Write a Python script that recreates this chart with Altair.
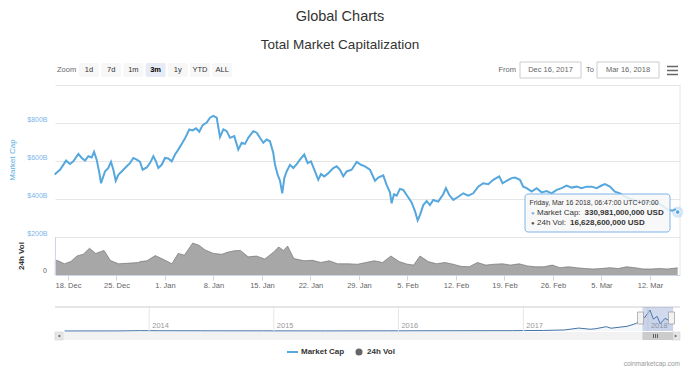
import altair as alt
import pandas as pd

FONT = "Liberation Sans"
BLUE = "#55a7dd"
PX0, PY0 = 55, 85          # page position of the plot origin
W, H = 625, 190

# ---------------- data ----------------
BASE = pd.Timestamp("2017-12-16")
# market cap (billions USD) at day offsets from 16 Dec 2017
mc_day = [0.1, 0.27, 0.85, 1.72, 2.29, 2.77, 3.50, 3.98, 4.46, 4.94, 5.42, 5.76, 6.14, 6.53, 6.77,
          7.01, 7.34, 7.82, 8.21, 8.55, 8.89, 9.27, 9.75, 10.48, 10.95, 11.43, 11.92, 12.40,
          12.78, 13.36, 13.84, 14.32, 14.70, 15.04, 15.52, 16.00, 16.48, 16.97, 17.45, 17.92,
          18.41, 18.89, 19.51, 20.00, 20.48, 20.95, 21.44, 22.02, 22.50, 22.97, 23.46, 23.94,
          24.42, 24.91, 25.38, 26.00, 26.58, 27.07, 27.55, 28.02, 28.74, 29.24, 29.71, 30.19,
          30.68, 31.15, 31.63, 31.88, 32.27, 32.60, 32.93, 33.22, 33.56, 34.04, 34.52, 35.01,
          35.48, 36.10, 36.59, 37.07, 37.55, 38.12, 38.51, 38.99, 39.57, 40.29, 40.78, 41.26,
          41.73, 42.22, 42.94, 43.67, 44.29, 44.86, 45.59, 46.31, 46.78, 47.50, 47.99, 48.47,
          48.71, 49.05, 49.44, 49.91, 50.39, 50.88, 51.60, 52.08, 52.47, 52.80, 53.28, 53.77,
          54.24, 54.72, 55.44, 56.16, 56.55, 57.03, 57.61, 58.33, 59.05, 59.77, 60.49, 61.21,
          61.93, 62.66, 63.38, 64.24, 64.73, 65.31, 66.03, 66.51, 67.23, 67.71, 68.20, 68.92,
          69.64, 70.36, 71.08, 71.80, 72.53, 73.25, 73.97, 74.69, 75.41, 76.13, 76.85, 77.57,
          78.30, 79.02, 79.49, 80.22, 80.94, 81.66, 82.38, 83.2, 84.0, 85.0, 86.0, 87.0, 87.8,
          88.5, 89.2, 89.6, 90.0]
mc_val = [528, 536, 554, 602, 584, 598, 637, 616, 602, 625, 619, 648, 607, 536, 483,
          510, 545, 563, 595, 554, 496, 527, 545, 572, 589, 616, 607, 595,
          554, 566, 589, 625, 598, 563, 580, 616, 613, 598, 634, 660,
          690, 719, 766, 761, 772, 754, 789, 802, 828, 837, 828, 726,
          766, 757, 722, 731, 660, 696, 690, 722, 757, 749, 722, 696,
          713, 704, 642, 580, 527, 496, 430, 510, 545, 580, 563, 584,
          607, 634, 589, 598, 554, 501, 531, 519, 536, 563, 572, 554,
          519, 545, 554, 595, 580, 572, 554, 496, 513, 524, 474, 435,
          377, 425, 418, 453, 448, 421, 382, 336, 288, 315, 368, 389,
          368, 395, 386, 425, 457, 421, 395, 412, 430, 418, 430, 465,
          483, 478, 501, 519, 483, 496, 510, 513, 501, 465, 457, 439,
          457, 435, 442, 430, 448, 457, 471, 460, 465, 457, 465, 465,
          457, 471, 478, 465, 439, 430, 412, 400, 390, 385, 380, 378, 365,
          345, 338, 345, 330.981]

# 24h volume (billions USD)
vol_day = [0.1, 0.4, 1.5, 1.8, 2.4, 3.3, 3.7, 4.2, 5.1, 6.0, 7.2, 8.1, 8.5, 9.3, 10.5, 12.2, 12.4,
           13.4, 14.6, 15.8, 17.0, 17.9, 18.8, 20.0, 20.9, 21.8, 23.0, 24.2, 25.1, 26.0,
           26.9, 28.0, 29.2, 30.4, 31.6, 32.4, 33.1, 33.7, 34.6, 36.1, 37.3, 38.5, 39.7,
           40.9, 42.4, 43.8, 45.0, 46.2, 47.4, 48.6, 49.8, 51.0, 51.9, 52.8, 54.0, 55.2,
           56.4, 57.6, 58.7, 59.9, 61.1, 62.3, 63.5, 64.7, 65.9, 67.1, 68.3, 69.5, 70.7,
           71.9, 73.0, 74.2, 75.4, 76.6, 77.8, 79.0, 80.2, 81.4, 82.6, 83.8, 85.0, 86.2,
           87.4, 88.5, 89.7, 90.0]
vol_val = [32, 34, 26, 28, 31, 44, 46, 48, 62, 50, 57, 34, 31, 26, 27, 29, 31,
           33, 45, 36, 26, 50, 46, 74, 69, 58, 50, 48, 53, 56,
           57, 42, 44, 37, 52, 65, 57, 67, 38, 33, 34, 29, 33,
           26, 26, 25, 29, 33, 29, 44, 31, 25, 23, 44, 31, 26,
           29, 25, 20, 19, 29, 23, 25, 26, 23, 26, 21, 19, 19,
           23, 17, 19, 17, 15, 14, 15, 17, 15, 19, 17, 14, 14,
           15, 14, 16, 16.6286]

# navigator: whole history of market cap (billions USD)
nav_date = ["2013-04-28", "2013-10-01", "2013-12-04", "2014-02-01", "2014-06-01", "2014-12-01",
            "2015-06-01", "2015-12-01", "2016-06-15", "2016-12-01", "2017-01-05", "2017-03-01",
            "2017-05-01", "2017-06-12", "2017-07-16", "2017-08-01", "2017-09-01", "2017-09-15",
            "2017-11-01", "2017-11-28", "2017-12-17", "2017-12-22", "2018-01-07", "2018-01-17",
            "2018-01-28", "2018-02-06", "2018-02-20", "2018-03-16"]
nav_val = [1.5, 2, 13, 10, 8, 5, 3.5, 6, 10, 12, 18, 22, 40, 115, 70, 90, 170, 110, 185, 300,
           600, 520, 830, 470, 580, 290, 500, 331]

x_tick_dates = ["2017-12-18", "2017-12-25", "2018-01-01", "2018-01-08", "2018-01-15",
                "2018-01-22", "2018-01-29", "2018-02-05", "2018-02-12", "2018-02-19",
                "2018-02-26", "2018-03-05", "2018-03-12"]
y_ticks = [200, 400, 600, 800, 1000]
year_starts = ["2014-01-01", "2015-01-01", "2016-01-01", "2017-01-01", "2018-01-01"]
year_labels = ["2014", "2015", "2016", "2017", "2018"]
selection = ["2017-12-16", "2018-03-16"]
zoom_buttons = ["1d", "7d", "1m", "3m", "1y", "YTD", "ALL"]
selected_button = "3m"
from_date, to_date = "Dec 16, 2017", "Mar 16, 2018"
tooltip_header = "Friday, Mar 16 2018, 06:47:00 UTC+07:00"
tooltip_mc = "330,981,000,000 USD"
tooltip_vol = "16,628,600,000 USD"

# ---------------- tables ----------------
mc = pd.DataFrame({"t": [BASE + pd.Timedelta(days=d) for d in mc_day], "v": mc_val})
vol = pd.DataFrame({"t": [BASE + pd.Timedelta(days=d) for d in vol_day], "v": vol_val})
nav = pd.DataFrame({"t": pd.to_datetime(nav_date), "v": nav_val})
years = pd.DataFrame({"t": pd.to_datetime(year_starts), "label": year_labels})
sel = pd.DataFrame({"t": [pd.Timestamp(selection[0])], "t2": [pd.Timestamp(selection[1])]})
last = mc.tail(1)
ONE = pd.DataFrame({"k": [0]})


def dt(s):
    ts = pd.Timestamp(s)
    return alt.DateTime(year=ts.year, month=ts.month, date=ts.day, hours=ts.hour, minutes=ts.minute)


xs_main = alt.Scale(domain=[dt("2017-12-16 03:00"), dt("2018-03-16 08:00")])
ys_main = alt.Scale(domain=[0, 1000])
xs_nav = alt.Scale(domain=[dt("2013-03-31"), dt("2018-04-05")])
ys_nav = alt.Scale(domain=[0, 870], range=[246, 224])
ys_vol = alt.Scale(domain=[0, 88], range=[190, 152])


# ---------------- helpers for the page chrome ----------------
def text(s, x, y, size=8, color="#333333", weight="normal", align="left", angle=0, font=FONT):
    return alt.Chart(ONE).mark_text(text=s, fontSize=size, color=color, fontWeight=weight,
                                    align=align, baseline="middle", angle=angle, font=font
                                    ).encode(x=alt.value(x - PX0), y=alt.value(y - PY0))


def box(x1, y1, x2, y2, fill, stroke=None, sw=1, radius=0, opacity=1.0):
    kw = dict(fill=fill, fillOpacity=opacity, cornerRadius=radius)
    if stroke:
        kw.update(stroke=stroke, strokeWidth=sw)
    else:
        kw.update(strokeWidth=0)
    return alt.Chart(ONE).mark_rect(**kw).encode(
        x=alt.value(x1 - PX0), x2=alt.value(x2 - PX0),
        y=alt.value(y1 - PY0), y2=alt.value(y2 - PY0))


def hline(x1, x2, y, color, sw=1):
    return alt.Chart(ONE).mark_rule(color=color, strokeWidth=sw).encode(
        x=alt.value(x1 - PX0), x2=alt.value(x2 - PX0), y=alt.value(y - PY0))


def vline(x, y1, y2, color, sw=1):
    return alt.Chart(ONE).mark_rule(color=color, strokeWidth=sw).encode(
        x=alt.value(x - PX0), y=alt.value(y1 - PY0), y2=alt.value(y2 - PY0))


# ---------------- data layers ----------------
line = alt.Chart(mc).mark_line(color=BLUE, strokeWidth=2).encode(
    x=alt.X("t:T", scale=xs_main, title=None,
            axis=alt.Axis(values=[dt(s) for s in x_tick_dates], format="%-d. %b", grid=False,
                          domainColor="#ccd6eb", tickColor="#ccd6eb", tickSize=5, labelPadding=1,
                          labelFontSize=7.5, labelColor="#666666", labelFont=FONT,
                          labelFlush=False, labelOverlap=False)),
    y=alt.Y("v:Q", scale=ys_main, title=None,
            axis=alt.Axis(values=y_ticks, grid=True, gridColor="#e6e6e6", domain=False, ticks=False,
                          labelExpr="datum.value >= 1000 ? '' : '$' + datum.value + 'B'",
                          labelPadding=8, labelFontSize=7, labelColor="#7cb5ec", labelFont=FONT,
                          labelBaseline="middle", labelOffset=-4)),
)

volume = alt.Chart(vol).mark_area(color="#828282", line={"color": "#666666", "strokeWidth": 0.6}).encode(
    x=alt.X("t:T", scale=xs_main, axis=None),
    y=alt.Y("v:Q", scale=ys_vol, axis=None),
)

nav_area = alt.Chart(nav).mark_area(color="#4572a7", opacity=0.06).encode(
    x=alt.X("t:T", scale=xs_nav, axis=None), y=alt.Y("v:Q", scale=ys_nav, axis=None))
nav_line = alt.Chart(nav).mark_line(color="#4572a7", strokeWidth=1).encode(
    x=alt.X("t:T", scale=xs_nav, axis=None), y=alt.Y("v:Q", scale=ys_nav, axis=None))
year_rules = alt.Chart(years).mark_rule(color="#e6e6e6").encode(
    x=alt.X("t:T", scale=xs_nav, axis=None), y=alt.value(307 - PY0), y2=alt.value(331 - PY0))
year_text = alt.Chart(years).mark_text(align="left", baseline="middle", dx=3, fontSize=7.5,
                                       color="#999999", font=FONT).encode(
    x=alt.X("t:T", scale=xs_nav, axis=None), y=alt.value(326 - PY0), text="label:N")
nav_mask = alt.Chart(sel).mark_rect(color="#6685c2", opacity=0.3).encode(
    x=alt.X("t:T", scale=xs_nav, axis=None), x2="t2:T",
    y=alt.value(307 - PY0), y2=alt.value(331 - PY0))
thumb = alt.Chart(sel).mark_rect(color="#cccccc").encode(
    x=alt.X("t:T", scale=xs_nav, axis=None), x2="t2:T",
    y=alt.value(332 - PY0), y2=alt.value(340 - PY0))

halo = alt.Chart(last).mark_circle(color="#7cb5ec", opacity=0.3, size=130).encode(
    x=alt.X("t:T", scale=xs_main, axis=None), y=alt.Y("v:Q", scale=ys_main, axis=None))
dot = alt.Chart(last).mark_circle(color=BLUE, opacity=1, size=22, stroke="white", strokeWidth=1).encode(
    x=alt.X("t:T", scale=xs_main, axis=None), y=alt.Y("v:Q", scale=ys_main, axis=None))

# ---------------- chrome ----------------
chrome = [
    text("Global Charts", 340, 16.5, size=14.5, align="center"),
    text("Total Market Capitalization", 340, 45, size=13.5, align="center"),
    text("Zoom", 57, 70, size=7.5, color="#666666"),
]
for i, b in enumerate(zoom_buttons):
    cx = 89 + 22.2 * i
    on = b == selected_button
    chrome.append(box(cx - 10, 63, cx + 10, 77, "#e6ebf5" if on else "#f7f7f7", radius=2))
    chrome.append(text(b, cx, 70, size=7.5, color="#000000" if on else "#333333",
                       weight="bold" if on else "normal", align="center"))
chrome += [
    text("From", 516, 70, size=7.5, color="#666666", align="right"),
    box(520, 62, 581, 78, "#ffffff", stroke="#cccccc"),
    text(from_date, 550.5, 70, size=7.5, color="#666666", align="center"),
    text("To", 594, 70, size=7.5, color="#666666", align="right"),
    box(597, 62, 659, 78, "#ffffff", stroke="#cccccc"),
    text(to_date, 628, 70, size=7.5, color="#666666", align="center"),
    hline(667, 678, 66.5, "#666666", 1.5),
    hline(667, 678, 70.5, "#666666", 1.5),
    hline(667, 678, 74.5, "#666666", 1.5),
    vline(680, 85, 275, "#e6e6e6"),
    vline(55.5, 237, 275, "#ccd6eb"),
    text("Market Cap", 12.5, 160, size=8, color="#5aaee3", angle=270, align="center"),
    text("24h Vol", 22, 256, size=8, color="#333333", weight="bold", angle=270, align="center"),
    text("0", 47, 271, size=7, color="#666666", align="right"),
    # navigator / scrollbar frame
    hline(55, 680, 307, "#cccccc"),
    box(55, 332, 680, 340, "#f2f2f2"),
    box(55, 332, 63, 340, "#e6e6e6", stroke="#cccccc", sw=0.5),
    box(672, 332, 680, 340, "#e6e6e6", stroke="#cccccc", sw=0.5),
]
arrows = [
    alt.Chart(ONE).mark_point(shape="triangle-left", filled=True, color="#333333", size=8).encode(
        x=alt.value(59 - PX0), y=alt.value(336 - PY0)),
    alt.Chart(ONE).mark_point(shape="triangle-right", filled=True, color="#333333", size=8).encode(
        x=alt.value(676 - PX0), y=alt.value(336 - PY0)),
]
handles = [
    box(637.5, 312, 643.5, 324, "#f2f2f2", stroke="#999999", sw=0.7),
    box(668.5, 312, 674.5, 324, "#f2f2f2", stroke="#999999", sw=0.7),
    vline(653.5, 334, 338, "#333333", 0.7), vline(655.5, 334, 338, "#333333", 0.7),
    vline(657.5, 334, 338, "#333333", 0.7),
]
tooltip = [
    box(525, 194, 670, 232, "#f7f7f7", stroke="#7cb5ec", sw=1, radius=3, opacity=0.85),
    text(tooltip_header, 529.5, 203, size=6.9, color="#333333"),
    text("\u25cf", 531, 213, size=6, color="#7cb5ec"),
    text("Market Cap:", 537, 213, size=8, color="#333333"),
    text(tooltip_mc, 584.5, 213, size=8, color="#333333", weight="bold"),
    text("\u25cf", 531, 222.5, size=6, color="#555555"),
    text("24h Vol:", 537, 222.5, size=8, color="#333333"),
    text(tooltip_vol, 570, 222.5, size=8, color="#333333", weight="bold"),
]
legend = [
    hline(287, 298, 352, BLUE, 2),
    text("Market Cap", 301, 352, size=8, color="#333333", weight="bold"),
    alt.Chart(ONE).mark_circle(color="#666666", size=50, opacity=1).encode(
        x=alt.value(359 - PX0), y=alt.value(352 - PY0)),
    text("24h Vol", 367, 352, size=8, color="#333333", weight="bold"),
    text("coinmarketcap.com", 680, 364, size=6.5, color="#999999", align="right"),
]

chart = alt.layer(
    volume, line, nav_area, nav_line, year_rules, year_text, *chrome, nav_mask, thumb, *arrows,
    *handles, *tooltip, halo, dot, *legend
).resolve_scale(x="independent", y="independent").properties(
    width=W, height=H,
    padding={"left": PX0 - 8, "top": PY0 - 8, "right": 8, "bottom": 92},
    autosize=alt.AutoSizeParams(type="none"),
    background="white",
).configure_view(stroke=None)

chart.save("out.html", embed_options={"renderer": "svg", "actions": False})
